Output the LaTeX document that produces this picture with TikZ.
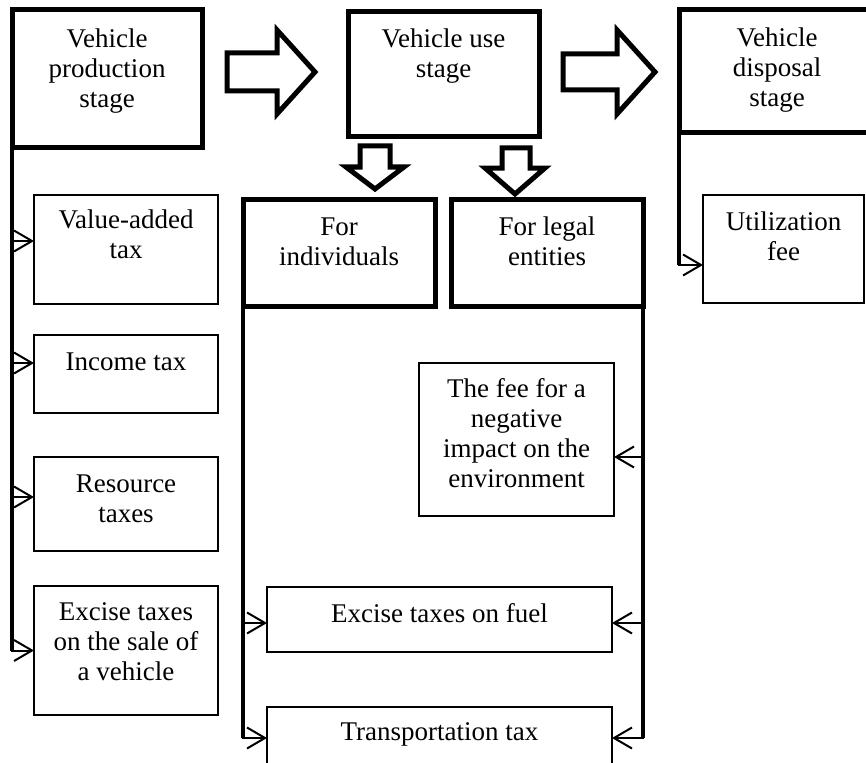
\documentclass[tikz,border=0pt]{standalone}
\usepackage{fontspec}
\setmainfont{Liberation Serif}
\usetikzlibrary{arrows.meta}
\newcommand\boxtxt[4]{\parbox[c][#2pt][t]{#1pt}{\centering\rule{0pt}{#3pt}#4\par}}
\begin{document}
\begin{tikzpicture}[x=1pt,y=-1pt,
  base/.style={draw, inner sep=0pt, outer sep=0pt, anchor=north west, font=\fontsize{27}{30}\selectfont},
  thickbox/.style={base, line width=5pt},
  thinbox/.style={base, line width=1.2pt},
  conn/.style={line width=2pt, -{Straight Barb[length=18pt,width=21pt]}},
  trunk/.style={line width=3.5pt},
  block/.style={draw, line width=5pt, line join=miter, fill=white}]
\useasboundingbox (0,0) rectangle (866,762);
\clip (0,0) rectangle (866,762);
% stage boxes
\node[thickbox] (prod) at (12,10) {\boxtxt{190}{138}{38}{Vehicle\\production\\stage}};
\node[thickbox] (use) at (348,12) {\boxtxt{191}{125}{36}{Vehicle use\\stage}};
\node[thickbox] (disp) at (679,10) {\boxtxt{196}{123}{37}{Vehicle\\disposal\\stage}};
% production taxes
\node[thinbox] (vat) at (34,195) {\boxtxt{184}{109}{33}{Value-added\\tax}};
\node[thinbox] (inc) at (34,335) {\boxtxt{184}{78}{35}{Income tax}};
\node[thinbox] (res) at (34,457) {\boxtxt{184}{94}{35}{Resource\\taxes}};
\node[thinbox] (exc) at (34,586) {\boxtxt{184}{129}{34}{Excise taxes\\on the sale of\\a vehicle}};
% use stage
\node[thickbox] (ind) at (243,199) {\boxtxt{192}{107}{36}{For\\individuals}};
\node[thickbox] (leg) at (451,199) {\boxtxt{192}{107}{36}{For legal\\entities}};
\node[thinbox] (neg) at (419,363) {\boxtxt{195}{153}{34}{The fee for a\\negative\\impact on the\\environment}};
\node[thinbox] (fuel) at (267,587) {\boxtxt{345}{65}{35}{Excise taxes on fuel}};
\node[thinbox] (trans) at (267,707) {\boxtxt{345}{62}{33}{Transportation tax}};
% disposal
\node[thinbox] (util) at (703,195) {\boxtxt{161}{108}{35}{Utilization\\fee}};
% block arrows
\draw[block] (227,53) -- (277,53) -- (277,30) -- (315,72) -- (277,114) -- (277,91) -- (227,91) -- cycle;
\draw[block] (563,54) -- (617,54) -- (617,30) -- (655,72) -- (617,114) -- (617,90) -- (563,90) -- cycle;
\draw[block] (360,146) -- (390,146) -- (390,167) -- (404,167) -- (375,189) -- (346,167) -- (360,167) -- cycle;
\draw[block] (502,148) -- (530,148) -- (530,168) -- (545,168) -- (515,194) -- (485,168) -- (502,168) -- cycle;
% trunks
\draw[trunk] (prod.south west) -- (prod.south west |- exc.west);
\draw[trunk] (disp.south west) -- ([yshift=-16pt]disp.south west |- util.west);
\draw[trunk] (ind.south west) -- (ind.south west |- trans.west);
\draw[trunk] (leg.south east) -- (leg.south east |- trans.east);
% connectors
\draw[conn] (prod.south west) |- ([yshift=8.5pt]vat.west);
\draw[conn] (prod.south west) |- ([yshift=11pt]inc.west);
\draw[conn] (prod.south west) |- ([yshift=7pt]res.west);
\draw[conn] (prod.south west) |- (exc.west);
\draw[conn] (disp.south west) |- ([yshift=-16pt]util.west);
\draw[conn] (ind.south west) |- ([yshift=-3.5pt]fuel.west);
\draw[conn] (ind.south west) |- (trans.west);
\draw[conn] (leg.south east) |- ([yshift=-17.5pt]neg.east);
\draw[conn] (leg.south east) |- ([yshift=-3.5pt]fuel.east);
\draw[conn] (leg.south east) |- (trans.east);
\end{tikzpicture}
\end{document}
